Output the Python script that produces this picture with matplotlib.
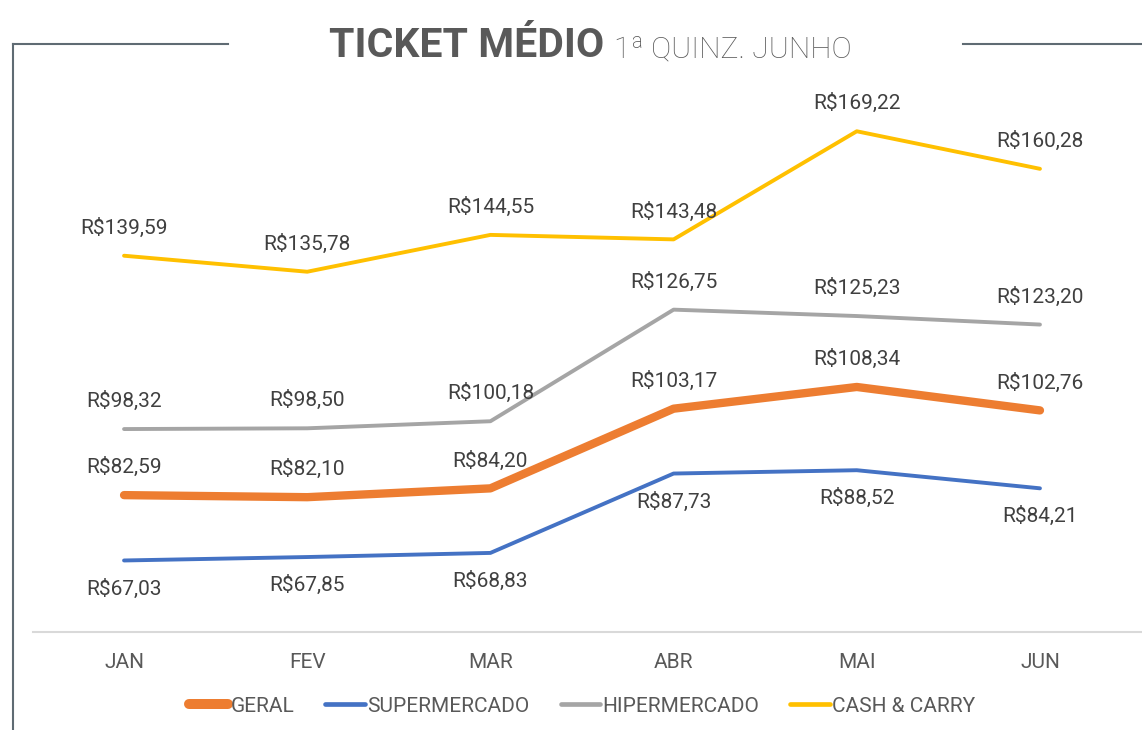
import matplotlib.pyplot as plt
from matplotlib.lines import Line2D

meses = ["JAN", "FEV", "MAR", "ABR", "MAI", "JUN"]
geral = [82.59, 82.10, 84.20, 103.17, 108.34, 102.76]
supermercado = [67.03, 67.85, 68.83, 87.73, 88.52, 84.21]
hipermercado = [98.32, 98.50, 100.18, 126.75, 125.23, 123.20]
cash_carry = [139.59, 135.78, 144.55, 143.48, 169.22, 160.28]

plt.rcParams['font.family'] = ['Roboto', 'DejaVu Sans']


def brl(v):
    return "R$" + f"{v:.2f}".replace(".", ",")


W, H = 1142, 730
fig = plt.figure(figsize=(W / 100, H / 100), dpi=100)
ax = fig.add_axes([33 / W, (H - 632) / H, 1 - 33 / W, (632 - 86) / H])

x = list(range(len(meses)))
series = [
    ("GERAL", geral, "#ed7d31", 6.0, 1),
    ("SUPERMERCADO", supermercado, "#4472c4", 2.8, -1),
    ("HIPERMERCADO", hipermercado, "#a5a5a5", 2.8, 1),
    ("CASH & CARRY", cash_carry, "#ffc000", 2.8, 1),
]

for nome, vals, cor, lw, lado in series:
    ax.plot(x, vals, color=cor, lw=lw, solid_capstyle='round', label=nome, zorder=3)
    for xi, v in zip(x, vals):
        off = 28 if lado > 0 else -28
        ax.annotate(brl(v), (xi, v), xytext=(0, off), textcoords='offset pixels',
                    ha='center', va='center', fontsize=15, color='#404040', zorder=4)

ax.set_xlim(-0.497, 5.557)
ax.set_ylim(50, 180)
ax.set_xticks(x)
ax.set_xticklabels(meses, fontsize=15, color='#595959')
ax.set_yticks([])
ax.tick_params(axis='x', length=0, pad=15)
for s in ['top', 'right', 'left']:
    ax.spines[s].set_visible(False)
ax.spines['bottom'].set_color('#d9d9d9')
ax.spines['bottom'].set_linewidth(1.5)
ax.patch.set_alpha(0)

# moldura
cor_moldura = '#5f6b73'
fig.add_artist(Line2D([13 / W, 13 / W], [0, (H - 44) / H], color=cor_moldura, lw=1.5))
fig.add_artist(Line2D([13 / W, 228 / W], [(H - 44) / H] * 2, color=cor_moldura, lw=1.5))
fig.add_artist(Line2D([963 / W, 1], [(H - 44) / H] * 2, color=cor_moldura, lw=1.5))

# titulo
fig.text(604 / W, (H - 57) / H, "TICKET MÉDIO", ha='right', va='baseline',
         fontsize=29.5, fontweight='bold', color='#595959')
fig.text(614 / W, (H - 57) / H, "1ª QUINZ. JUNHO", ha='left', va='baseline',
         fontsize=21.7, fontweight='light', color='#595959')

handles = [Line2D([], [], color=c, lw=lw * 1.2, solid_capstyle='round') for _, _, c, lw, _ in series]
fig.legend(handles, [s[0] for s in series], loc='center', bbox_to_anchor=(582 / W, (H - 706) / H),
           ncol=4, frameon=False, fontsize=15, handlelength=1.9, handletextpad=0.1,
           columnspacing=1.5, labelcolor='#595959')

fig.savefig("out.png", dpi=100)
